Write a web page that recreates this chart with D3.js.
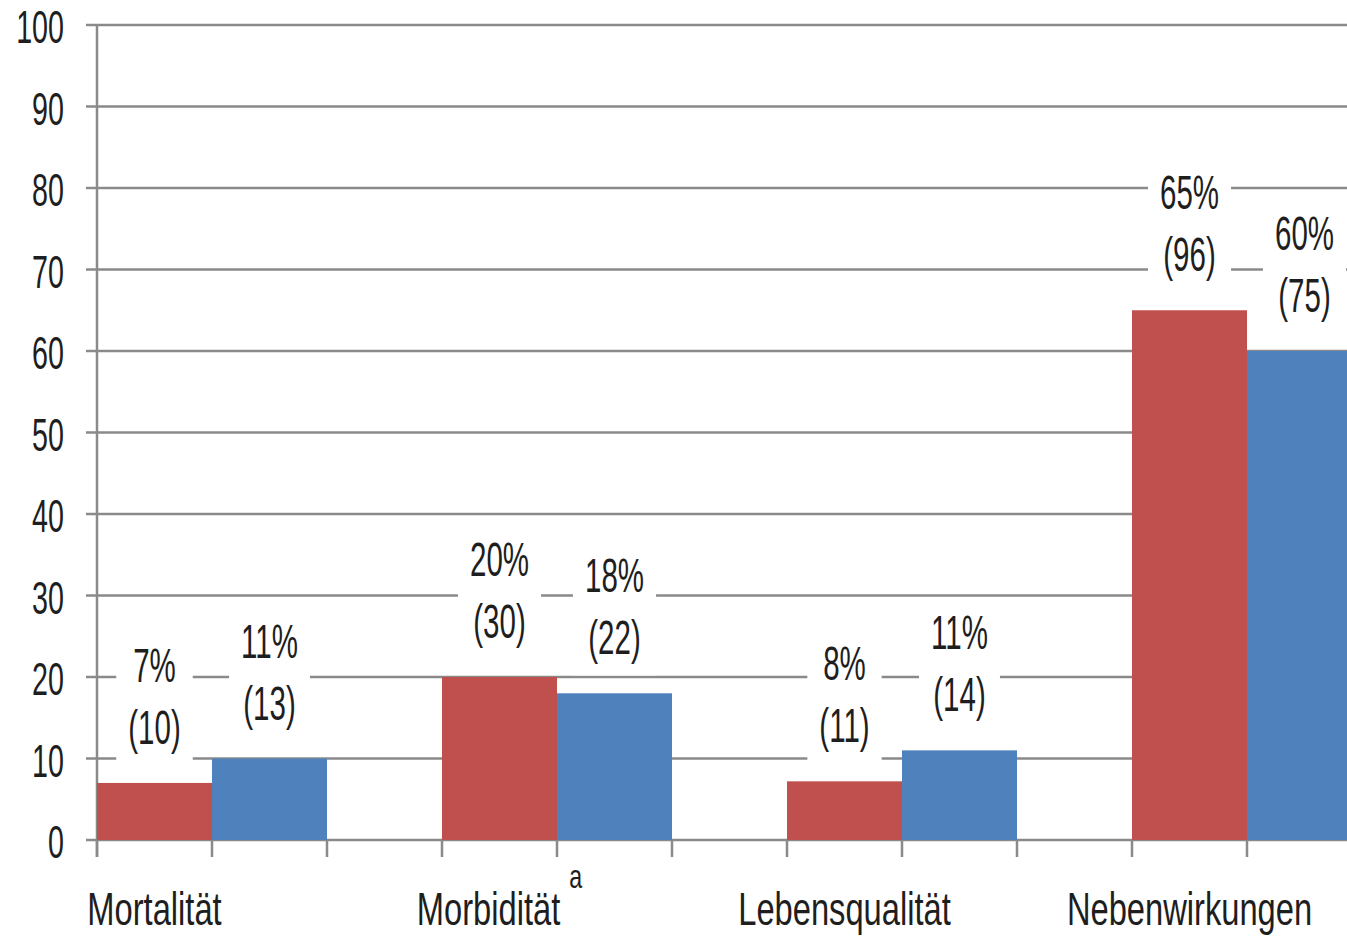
<!DOCTYPE html>
<html lang="de">
<head>
    <meta charset="UTF-8">
    <title>Mortalität, Morbidität, Lebensqualität, Nebenwirkungen</title>
    <script src="https://d3js.org/d3.v7.min.js"></script>
    <style>
        body {
            margin: 0;
            background: #ffffff;
        }

        svg text {
            font-family: "Liberation Sans", Arial, sans-serif;
            fill: #1e1e1e;
        }
    </style>
</head>
<body>
    <svg id="chart" width="1347" height="936"></svg>
    <script>
        // data
        let categories = ["Mortalität", "Morbidität", "Lebensqualität", "Nebenwirkungen"]
        let superscripts = ["", "a", "", ""]
        let groups = ["rot", "blau"]
        let redValues = [7, 20, 7.2, 65]
        let blueValues = [10, 18, 11, 60]
        let redPercent = ["7%", "20%", "8%", "65%"]
        let redCount = ["(10)", "(30)", "(11)", "(96)"]
        let bluePercent = ["11%", "18%", "11%", "60%"]
        let blueCount = ["(13)", "(22)", "(14)", "(75)"]
        let yTicks = [0, 10, 20, 30, 40, 50, 60, 70, 80, 90, 100]

        let colors = { "rot": "#c0504d", "blau": "#4f81bd" }
        let gridColor = "#8a8a8a"

        let svg = d3.select("#chart")

        // y: 0 at 840px, 100 at 25px
        let y = d3.scaleLinear().domain([0, 100]).range([840, 25])
        // one step = 345px, two bars of 115px, gap of 115px
        let x = d3.scaleBand().domain(categories).range([97, 1362])
            .paddingInner(1 / 3).paddingOuter(0)
        let xSub = d3.scaleBand().domain(groups).range([0, x.bandwidth()])

        let rows = categories.map((c, i) => [
            { cat: c, key: "rot", value: redValues[i], pct: redPercent[i], n: redCount[i] },
            { cat: c, key: "blau", value: blueValues[i], pct: bluePercent[i], n: blueCount[i] }
        ]).flat()

        // narrow, tall text (Calibri-like look)
        function addText(parent, px, py, str, size, sx, sy, anchor) {
            return parent.append("text")
                .attr("transform", `translate(${px},${py}) scale(${sx},${sy})`)
                .attr("text-anchor", anchor)
                .style("font-size", size + "px")
                .text(str)
        }

        // gridlines
        svg.append("g").selectAll("line")
            .data(yTicks)
            .join("line")
            .attr("x1", 86).attr("x2", 1347)
            .attr("y1", d => y(d)).attr("y2", d => y(d))
            .attr("stroke", gridColor)
            .attr("stroke-width", 2.5)

        // y axis line
        svg.append("line")
            .attr("x1", 97).attr("x2", 97)
            .attr("y1", y(100)).attr("y2", 857)
            .attr("stroke", gridColor).attr("stroke-width", 2.5)

        // x ticks at every bar edge
        let tickXs = []
        categories.forEach(c => {
            groups.forEach(g => tickXs.push(x(c) + xSub(g)))
            tickXs.push(x(c) + x.bandwidth())
        })
        svg.append("g").selectAll("line")
            .data(tickXs)
            .join("line")
            .attr("x1", d => d).attr("x2", d => d)
            .attr("y1", y(0)).attr("y2", 857)
            .attr("stroke", gridColor).attr("stroke-width", 2.5)

        // y tick labels
        let yLab = svg.append("g")
        yTicks.forEach(t => addText(yLab, 64, y(t) + 18, t, 35, 0.82, 1.32, "end"))

        // label boxes + labels
        let labelLayer = svg.append("g")
        let boxLayer = labelLayer.append("g")
        let textLayer = labelLayer.append("g")

        rows.forEach(r => {
            let cx = x(r.cat) + xSub(r.key) + xSub.bandwidth() / 2
            let top = y(r.value)
            let t1 = addText(textLayer, cx, top - 101, r.pct, 36, 0.82, 1.33, "middle")
            let t2 = addText(textLayer, cx, top - 39, r.n, 36, 0.82, 1.33, "middle")
            let w = Math.max(t1.node().getComputedTextLength(), t2.node().getComputedTextLength()) * 0.82 + 24
            boxLayer.append("rect")
                .attr("x", cx - w / 2)
                .attr("y", top - 143)
                .attr("width", w)
                .attr("height", 125)
                .attr("fill", "#ffffff")
        })

        // bars
        svg.insert("g", () => labelLayer.node())
            .selectAll("rect")
            .data(rows)
            .join("rect")
            .attr("x", d => x(d.cat) + xSub(d.key))
            .attr("y", d => y(d.value))
            .attr("width", xSub.bandwidth())
            .attr("height", d => y(0) - y(d.value))
            .attr("fill", d => colors[d.key])

        // category labels, centred under the red bar
        let xLab = svg.append("g")
        categories.forEach((c, i) => {
            let cx = x(c) + xSub.bandwidth() / 2
            let t = xLab.append("text")
                .attr("transform", `translate(${cx},925) scale(0.86,1.2)`)
                .attr("text-anchor", "middle")
                .style("font-size", "38px")
            t.append("tspan").text(c)
            if (superscripts[i]) {
                t.append("tspan").text(" ")
                t.append("tspan")
                    .attr("dy", -31)
                    .style("font-size", "27px")
                    .text(superscripts[i])
            }
        })
    </script>
</body>
</html>
